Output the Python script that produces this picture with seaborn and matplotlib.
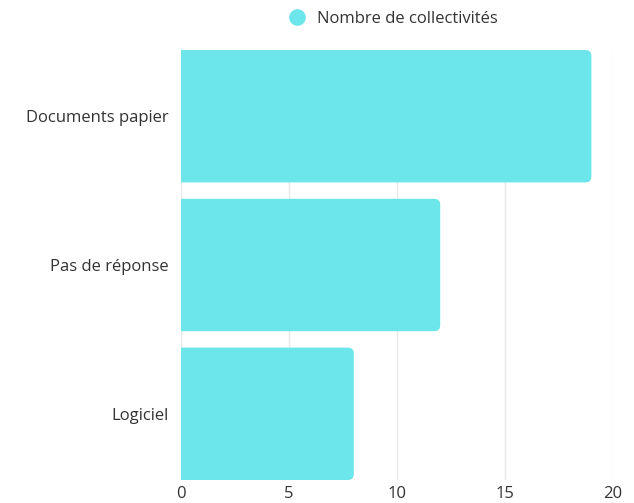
import matplotlib
matplotlib.use("Agg")
import matplotlib.pyplot as plt
from matplotlib.patches import FancyBboxPatch
from matplotlib.lines import Line2D
import seaborn as sns
import pandas as pd

categories = ["Documents papier", "Pas de réponse", "Logiciel"]
values = [19, 12, 8]
series_name = "Nombre de collectivités"
x_ticks = [0, 5, 10, 15, 20]

bar_color = "#6ce6ea"
text_color = "#333333"

sns.set_theme(style="white")
plt.rcParams["font.family"] = ["Open Sans", "DejaVu Sans"]

df = pd.DataFrame({"categorie": categories, "valeur": values})

fig = plt.figure(figsize=(6.34, 5.03), dpi=100)
ax = fig.add_axes([181 / 634, 1 - 480 / 503, 432 / 634, 430 / 503])

bar_h = 0.89
sns.barplot(data=df, x="valeur", y="categorie", orient="h", color=bar_color,
            width=bar_h, saturation=1, ax=ax, zorder=2)

ax.set_xlim(0, 20)
ax.set_ylim(len(categories) - 1 + bar_h / 2, -bar_h / 2)

# Swap the plain rectangles for bars with rounded right-hand corners
px_x = 432 / 20.0
px_y = 430 / (len(categories) - 1 + bar_h)
radius_px = 6
rx = radius_px / px_x
for patch in list(ax.patches):
    x0 = patch.get_x()
    y0 = patch.get_y()
    w = patch.get_width()
    h = patch.get_height()
    patch.remove()
    start = x0 - 1.0  # left corners fall outside the axes and are clipped
    rounded = FancyBboxPatch((start, y0), x0 + w - start, h,
                             boxstyle=f"round,pad=0,rounding_size={rx}",
                             mutation_aspect=px_x / px_y,
                             facecolor=bar_color, edgecolor="none",
                             zorder=2, clip_on=True)
    ax.add_patch(rounded)

ax.set_xticks(x_ticks)
ax.grid(axis="x", color="#e9e9e9", linewidth=1, zorder=0)
ax.grid(axis="y", visible=False)
for s in ax.spines.values():
    s.set_visible(False)

ax.set_xlabel("")
ax.set_ylabel("")
ax.tick_params(axis="x", length=0, pad=4, labelsize=12, labelcolor=text_color)
ax.tick_params(axis="y", length=0, pad=9, labelsize=12, labelcolor=text_color)

handle = Line2D([], [], marker="o", linestyle="none", markersize=12,
                markerfacecolor=bar_color, markeredgecolor="none")
fig.legend([handle], [series_name], loc="center",
           bbox_to_anchor=(389 / 634, 1 - 19 / 503), frameon=False,
           fontsize=12, handletextpad=0.2, labelcolor=text_color)

fig.savefig("out.png", dpi=100)
